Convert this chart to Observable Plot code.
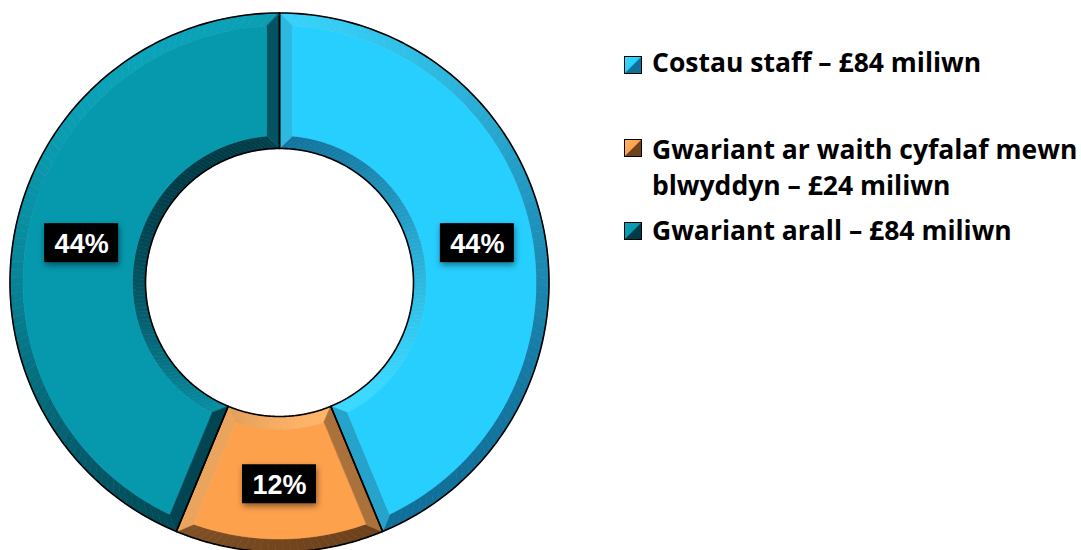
<!DOCTYPE html>
<html><head><meta charset="utf-8">
<script src="https://cdn.jsdelivr.net/npm/d3@7"></script>
<script src="https://cdn.jsdelivr.net/npm/@observablehq/plot@0.6"></script>
<style>
html,body{margin:0;padding:0;background:#fff;}
#wrap{position:relative;width:1081px;height:550px;overflow:hidden;}
#legend{position:absolute;left:624px;top:0;width:457px;height:550px;font-family:"Open Sans",Lato,sans-serif;font-weight:700;font-size:26.5px;color:#000;}
.sw{position:absolute;left:0;width:16px;height:16px;border:1.5px solid #000;}
.lab{position:absolute;left:28px;line-height:36px;white-space:pre;}
g[aria-label="rect"] rect{filter:drop-shadow(1px 3px 3px rgba(0,0,0,0.45));}
</style></head><body><div id="wrap"><div id="legend"></div></div>
<script>
// ---- data ----
const categories = ["Costau staff", "Gwariant ar waith cyfalaf mewn blwyddyn", "Gwariant arall"];
const valuesMillion = [84, 24, 84];
const percentLabels = ["44%", "12%", "44%"];
const legendLabels = ["Costau staff – £84 miliwn", "Gwariant ar waith cyfalaf mewn\nblwyddyn – £24 miliwn", "Gwariant arall – £84 miliwn"];
const fillColors = ["#27cffe", "#fea14d", "#0699ae"];
const darkColors = ["#11709a", "#6e421c", "#003c48"];
const lightColors = ["#3ad8ff", "#ffb468", "#0ba3b9"];

// ---- geometry (in units of outer radius) ----
const PX = 269.5;             // pixels per unit
const CX = 279, CY = 282;     // centre in pixels
const R = 1, r0 = 134 / PX, w = 13 / PX;
const light = (() => { const v = [-0.45, 0.9]; const n = Math.hypot(...v); return [v[0]/n, v[1]/n]; })();
const P = (rad, a) => ({x: rad * Math.sin(a), y: rad * Math.cos(a)});
const arcs = d3.pie().sort(null).value(d => d)(valuesMillion);

const bands = [], faces = [], outlines = [], labels = [];
let pid = 0;
function shade(i, nx, ny) {
  const b = nx * light[0] + ny * light[1];
  return d3.interpolateRgb(darkColors[i], lightColors[i])(Math.pow((b + 1) / 2, 1.15));
}
function addQuad(pts, color) {
  const id = pid++;
  pts.forEach(p => bands.push({id, x: p.x, y: p.y, color}));
}
arcs.forEach((a, i) => {
  const a0 = a.startAngle, a1 = a.endAngle;
  const dO = Math.asin(w / (R - w)), dI = Math.asin(w / (r0 + w));
  const N = Math.max(8, Math.ceil((a1 - a0) / 0.03));
  for (let k = 0; k < N; k++) {
    const t0 = k / N, t1 = (k + 1) / N, tm = (k + 0.5) / N;
    const am = a0 + tm * (a1 - a0);
    const oa = t => a0 + t * (a1 - a0), ia = t => a0 + dO + t * (a1 - a0 - 2 * dO);
    addQuad([P(R, oa(t0)), P(R, oa(t1)), P(R - w, ia(t1)), P(R - w, ia(t0))], shade(i, Math.sin(am), Math.cos(am)));
    const ib = t => a0 + dI + t * (a1 - a0 - 2 * dI);
    addQuad([P(r0, oa(t0)), P(r0, oa(t1)), P(r0 + w, ib(t1)), P(r0 + w, ib(t0))], shade(i, -Math.sin(am), -Math.cos(am)));
  }
  addQuad([P(R, a0), P(r0, a0), P(r0 + w, a0 + dI), P(R - w, a0 + dO)], shade(i, -Math.cos(a0), Math.sin(a0)));
  addQuad([P(R, a1), P(r0, a1), P(r0 + w, a1 - dI), P(R - w, a1 - dO)], shade(i, Math.cos(a1), -Math.sin(a1)));
  const M = 120;
  for (let k = 0; k <= M; k++) faces.push({id: i, ...P(R - w, a0 + dO + k / M * (a1 - a0 - 2 * dO)), color: fillColors[i]});
  for (let k = M; k >= 0; k--) faces.push({id: i, ...P(r0 + w, a0 + dI + k / M * (a1 - a0 - 2 * dI)), color: fillColors[i]});
  for (let k = 0; k <= M; k++) outlines.push({id: i, ...P(R, a0 + k / M * (a1 - a0))});
  for (let k = M; k >= 0; k--) outlines.push({id: i, ...P(r0, a0 + k / M * (a1 - a0))});
  const am = (a0 + a1) / 2;
  labels.push({...P((R + r0) / 2, am), text: percentLabels[i]});
});

const chart = Plot.plot({
  width: 1081, height: 550, margin: 0,
  x: {domain: [-CX / PX, (1081 - CX) / PX], axis: null},
  y: {domain: [(CY - 550) / PX, CY / PX], axis: null},
  color: {type: "identity"},
  style: {background: "transparent", overflow: "visible"},
  marks: [
    Plot.line(bands, {x: "x", y: "y", z: "id", fill: "color", stroke: "color", strokeWidth: 0.7, curve: "linear-closed"}),
    Plot.line(faces, {x: "x", y: "y", z: "id", fill: "color", stroke: "color", strokeWidth: 0.5, curve: "linear-closed"}),
    Plot.line(outlines, {x: "x", y: "y", z: "id", stroke: "#000", strokeWidth: 1.6, fill: "none", curve: "linear-closed"}),
    Plot.rect(labels, {x1: "x", x2: "x", y1: "y", y2: "y", fill: "#000", insetLeft: -37, insetRight: -37, insetTop: -19.5, insetBottom: -19.5}),
    Plot.text(labels, {x: "x", y: "y", text: "text", fill: "#fff", fontSize: 27, fontWeight: "bold", fontFamily: "'Liberation Sans', Arial, sans-serif", dy: 1})
  ]
});
document.getElementById("wrap").prepend(chart);

const legend = document.getElementById("legend");
const swTops = [56, 139, 222];
const labTops = [44, 131, 212];
categories.forEach((c, i) => {
  const sw = document.createElement("div");
  sw.className = "sw";
  sw.style.top = swTops[i] + "px";
  sw.style.background = `linear-gradient(135deg, ${lightColors[i]} 0%, ${fillColors[i]} 48%, ${darkColors[i]} 52%, ${darkColors[i]} 100%)`;
  legend.appendChild(sw);
  const lab = document.createElement("div");
  lab.className = "lab";
  lab.style.top = labTops[i] + "px";
  lab.textContent = legendLabels[i];
  legend.appendChild(lab);
});
</script></body></html>
